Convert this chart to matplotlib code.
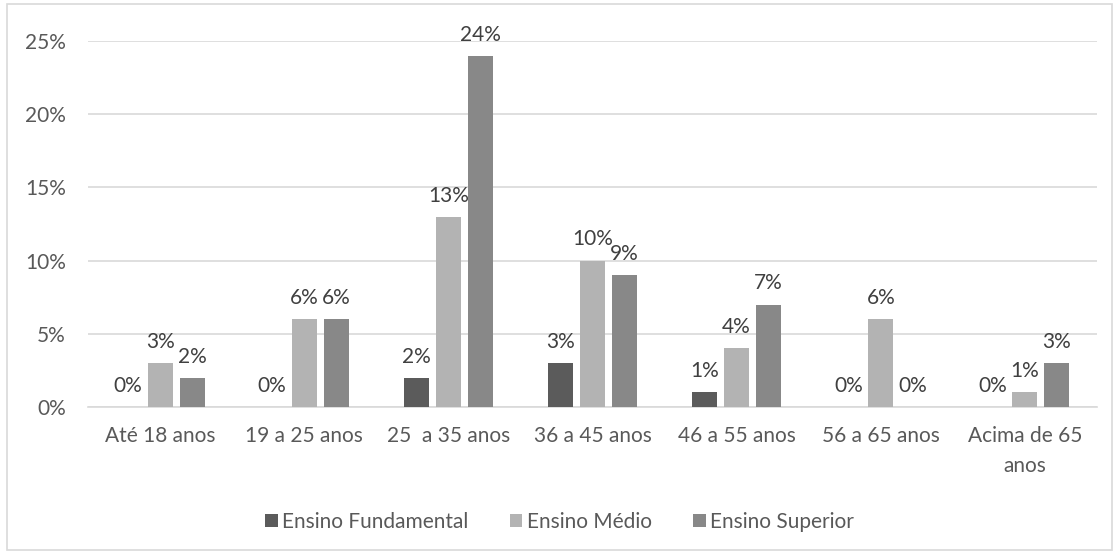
import matplotlib
matplotlib.use("Agg")
import matplotlib.pyplot as plt
from matplotlib.patches import Rectangle
import numpy as np

categories = ["Até 18 anos", "19 a 25 anos", "25  a 35 anos", "36 a 45 anos",
              "46 a 55 anos", "56 a 65 anos", "Acima de 65\nanos"]
fundamental = [0, 0, 2, 3, 1, 0, 0]
medio = [3, 6, 13, 10, 4, 6, 1]
superior = [2, 6, 24, 9, 7, 0, 3]
series_names = ["Ensino Fundamental", "Ensino Médio", "Ensino Superior"]
colors = ["#5b5b5b", "#b3b3b3", "#888888"]
yticks = [0, 5, 10, 15, 20, 25]

plt.rcParams['font.family'] = ['Lato', 'DejaVu Sans']
FS = 15

fig = plt.figure(figsize=(11.19, 5.52), dpi=100)
ax = fig.add_axes([88/1119, 1-407/552, (1097-88)/1119, (407-41)/552])

x = np.arange(len(categories))
w = 0.174
off = 0.222
for i, (vals, name, c) in enumerate(zip([fundamental, medio, superior], series_names, colors)):
    pos = x + (i-1)*off
    ax.bar(pos, vals, width=w, color=c, label=name, zorder=3)
    for p, v in zip(pos, vals):
        ax.annotate(f"{v}%", (p, v), xytext=(0, 8), textcoords="offset points",
                    ha="center", va="bottom", fontsize=FS, color="#404040")

ax.set_ylim(0, 25)
ax.set_xlim(-0.5, len(categories)-0.5)
ax.set_yticks(yticks)
ax.set_yticklabels([f"{t}%" for t in yticks], fontsize=FS, color="#595959")
ax.set_xticks(x)
ax.set_xticklabels(categories, fontsize=FS, color="#595959", linespacing=1.6)
ax.tick_params(axis='y', length=0, pad=16)
ax.tick_params(axis='x', length=0, pad=14)
ax.grid(axis='y', color="#d9d9d9", linewidth=1.2, zorder=0)
for s in ["top", "right", "left"]:
    ax.spines[s].set_visible(False)
ax.spines["bottom"].set_color("#d9d9d9")
ax.spines["bottom"].set_linewidth(1.2)

leg = fig.legend(loc="center", bbox_to_anchor=(0.5, 1-522/552), ncol=3, frameon=False,
                 fontsize=FS, handlelength=0.6, handleheight=0.6, handletextpad=0.2,
                 columnspacing=2.0)
for t in leg.get_texts():
    t.set_color("#595959")

fig.patches.append(Rectangle((7/1119, 2/552), 1105/1119, 546/552, transform=fig.transFigure,
                             fill=False, edgecolor="#d9d9d9", linewidth=1.2))

fig.savefig("out.png", dpi=100)
